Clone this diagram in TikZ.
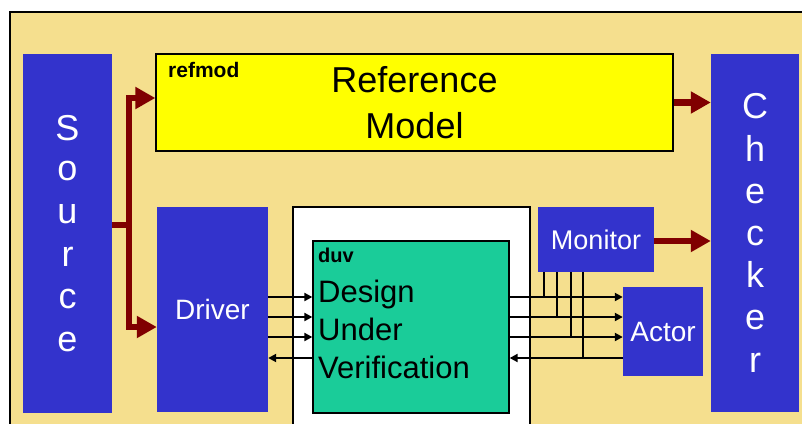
\documentclass[tikz,border=0pt]{standalone}
\usepackage{fontspec}
\setmainfont{Liberation Sans}
\usetikzlibrary{arrows.meta}

\definecolor{bgbeige}{RGB}{245,223,142}
\definecolor{boxblue}{RGB}{51,51,204}
\definecolor{duvgreen}{RGB}{26,204,153}
\definecolor{linkred}{RGB}{128,0,0}
\definecolor{refyellow}{RGB}{255,255,0}

\tikzset{
  blk/.style={fill=boxblue, draw=none, text=white, inner sep=0pt, align=center},
  outlined/.style={draw=black, line width=1.3pt, inner sep=0pt},
  flowboth/.style={draw=linkred, line width=6.5pt,
    {Triangle[length=20pt,width=21pt]}-{Triangle[length=20pt,width=21pt]}},
  flow/.style={draw=linkred, line width=6.5pt, -{Triangle[length=20pt,width=21pt]}},
  sig/.style={draw=black, line width=2.1pt, -{Triangle[length=8pt,width=8pt]}},
  tap/.style={draw=black, line width=2.1pt},
  lbl/.style={anchor=base west, inner sep=0pt},
}

\begin{document}
\begin{tikzpicture}[x=1pt, y=-1pt]
  \useasboundingbox (0,0) rectangle (802,423);
  \clip (0,0) rectangle (802,423);

  % backdrop
  \fill[white] (0,0) rectangle (802,423);
  \draw[fill=bgbeige, line width=1.5pt] (10,12) rectangle (830,460);

  % blocks
  \node[blk, minimum width=89pt, minimum height=359pt,
        font=\fontsize{36}{42.6}\selectfont] (Source) at (67.5,233.5)
        {\raisebox{-2pt}{S}\\o\\u\\r\\c\\e};
  \node[blk, minimum width=88pt, minimum height=358pt,
        font=\fontsize{36}{42.2}\selectfont] (Checker) at (755,233)
        {C\\h\\e\\c\\k\\e\\r};
  \node[outlined, fill=refyellow, minimum width=517pt, minimum height=97pt,
        align=center, font=\fontsize{36}{46}\selectfont] (refmod) at (414.5,102.5)
        {Reference\\Model};
  \node[blk, minimum width=111pt, minimum height=205pt,
        font=\fontsize{28}{34}\selectfont] (Driver) at (212.5,309.5)
        {\raisebox{-2pt}{Driver}};
  \node[outlined, fill=white, minimum width=237pt, minimum height=233pt]
        (wrap) at (411.5,323.5) {};
  \node[outlined, fill=duvgreen, minimum width=196pt, minimum height=172pt]
        (duv) at (411,327) {};
  \node[blk, minimum width=116pt, minimum height=65pt,
        font=\fontsize{27}{32}\selectfont] (Monitor) at (596,239.5) {Monitor};
  \node[blk, minimum width=80pt, minimum height=89pt,
        font=\fontsize{28}{34}\selectfont] (Actor) at (663,331.5) {Actor};

  % labels
  \node[lbl, font=\bfseries\fontsize{21}{25}\selectfont] (reflabel) at (168,77) {refmod};
  \node[lbl, font=\bfseries\fontsize{20}{24}\selectfont] (duvlabel) at (318,262) {duv};
  \node[lbl, font=\fontsize{31}{38}\selectfont] (duvl1) at (318,302) {Design};
  \node[lbl, font=\fontsize{31}{38}\selectfont] (duvl2) at (318,340) {Under};
  \node[lbl, font=\fontsize{31}{38}\selectfont] (duvl3) at (318,378) {Verification};

  % stimulus flow from the source
  \coordinate (j) at (129,225);
  \draw[linkred, line width=6.5pt] (Source.east |- j) -- (j);
  \draw[flowboth] ([yshift=4.5pt]refmod.west) -| (j) |- ([yshift=-17.5pt]Driver.west);

  % results into the checker
  \draw[flow] (refmod.east) -- (refmod.east -| Checker.west);
  \draw[flow] ([yshift=-1.5pt]Monitor.east) -- ([yshift=-1.5pt]Monitor.east -| Checker.west);

  % signal levels
  \coordinate (s1) at (0,297);
  \coordinate (s2) at (0,317);
  \coordinate (s3) at (0,337);
  \coordinate (s4) at (0,358);

  % driver <-> duv
  \draw[sig] (Driver.east |- s1) -- (duv.west |- s1);
  \draw[sig] (Driver.east |- s2) -- (duv.west |- s2);
  \draw[sig] (Driver.east |- s3) -- (duv.west |- s3);
  \draw[sig] (duv.west |- s4) -- (Driver.east |- s4);

  % duv <-> actor
  \draw[sig] (duv.east |- s1) -- (Actor.west |- s1);
  \draw[sig] (duv.east |- s2) -- (Actor.west |- s2);
  \draw[sig] (duv.east |- s3) -- (Actor.west |- s3);
  \draw[sig] (Actor.west |- s4) -- (duv.east |- s4);

  % monitor taps
  \coordinate (m1) at (544,0);
  \coordinate (m2) at (557,0);
  \coordinate (m3) at (571,0);
  \coordinate (m4) at (583,0);
  \draw[tap] (Monitor.south -| m1) -- (m1 |- s1);
  \draw[tap] (Monitor.south -| m2) -- (m2 |- s2);
  \draw[tap] (Monitor.south -| m3) -- (m3 |- s3);
  \draw[tap] (Monitor.south -| m4) -- (m4 |- s4);
\end{tikzpicture}
\end{document}
